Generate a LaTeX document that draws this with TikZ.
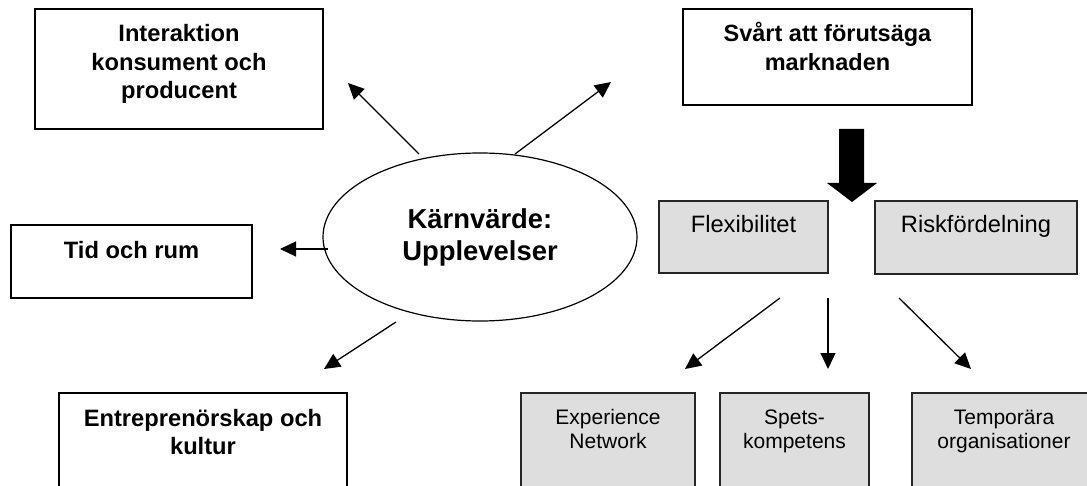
\documentclass[tikz,border=0pt]{standalone}
\usepackage{fontspec}
\setmainfont{Liberation Sans}
\usetikzlibrary{arrows.meta,shapes.geometric}
\definecolor{boxgray}{RGB}{222,222,222}
\newcommand\mybx[4]{\parbox[t][#2pt][t]{#1pt}{\centering\rule{0pt}{#3pt}#4}}
\tikzset{
  wbox/.style={draw=black, line width=1.8pt, inner sep=0pt, outer sep=0pt, anchor=north west,
    font=\fontsize{23.7}{28.5}\selectfont\bfseries},
  gbox/.style={draw=black!85, fill=boxgray, line width=1.3pt, inner sep=0pt, outer sep=0pt, anchor=north west,
    font=\fontsize{23.7}{28}\selectfont},
  sbox/.style={gbox, font=\fontsize{21}{24}\selectfont},
  conn/.style={line width=1.3pt, -{Triangle[length=16pt,width=15pt]}},
}
\begin{document}
\begin{tikzpicture}[x=1pt,y=-1pt]
\path[use as bounding box, clip] (0,0) rectangle (1087,486);

% left side boxes
\node[wbox] (inter) at (35,9) {\mybx{288}{120}{33}{Interaktion\\konsument och\\producent}};
\node[wbox] (tid) at (11,225) {\mybx{241}{73}{34}{Tid och rum}};
\node[wbox] (entre) at (59,393) {\mybx{288}{130}{33}{Entreprenörskap och\\kultur}};

% core ellipse
\node[draw, ellipse, line width=1.2pt, minimum width=314pt, minimum height=168pt, inner sep=0pt,
  align=center, font=\fontsize{27.4}{32}\selectfont\bfseries] (core) at (480,237) {Kärnvärde:\\Upplevelser};

% right side
\node[wbox, font=\fontsize{23.5}{29}\selectfont\bfseries] (svart) at (683,9) {\mybx{289}{96}{33}{Svårt att förutsäga\\marknaden}};
\node[gbox] (flex) at (659,201) {\mybx{169}{72}{32}{Flexibilitet}};
\node[gbox] (risk) at (875,201) {\mybx{202}{73}{32}{Riskfördelning}};
\node[sbox] (exp) at (521,393) {\mybx{174}{130}{31}{Experience\\Network}};
\node[sbox] (spets) at (720,393) {\mybx{149}{130}{31}{Spets-\\kompetens}};
\node[sbox] (temp) at (912,393) {\mybx{184}{130}{31}{Temporära\\organisationer}};

% big block arrow
\fill[black] (839,129) -- (864,129) -- (864,183) -- (877,183) -- (852,202) -- (827,183) -- (839,183) -- cycle;

% connector end points
\coordinate (c1s) at (419,154); \coordinate (c1e) at (348,83);
\coordinate (c2s) at (515,154); \coordinate (c2e) at (611,82);
\coordinate (c3s) at (328,249); \coordinate (c3e) at (280,249);
\coordinate (c4s) at (396,322); \coordinate (c4e) at (324,369);
\coordinate (c5s) at (780,298); \coordinate (c5e) at (685,369);
\coordinate (c6s) at (828,298); \coordinate (c6e) at (828,369);
\coordinate (c7s) at (899,298); \coordinate (c7e) at (971,369);

\draw[conn] (c1s) -- (c1e);
\draw[conn] (c2s) -- (c2e);
\draw[conn] (c3s) -- (c3e);
\draw[conn] (c4s) -- (c4e);
\draw[conn] (c5s) -- (c5e);
\draw[conn] (c6s) -- (c6e);
\draw[conn] (c7s) -- (c7e);
\end{tikzpicture}
\end{document}
